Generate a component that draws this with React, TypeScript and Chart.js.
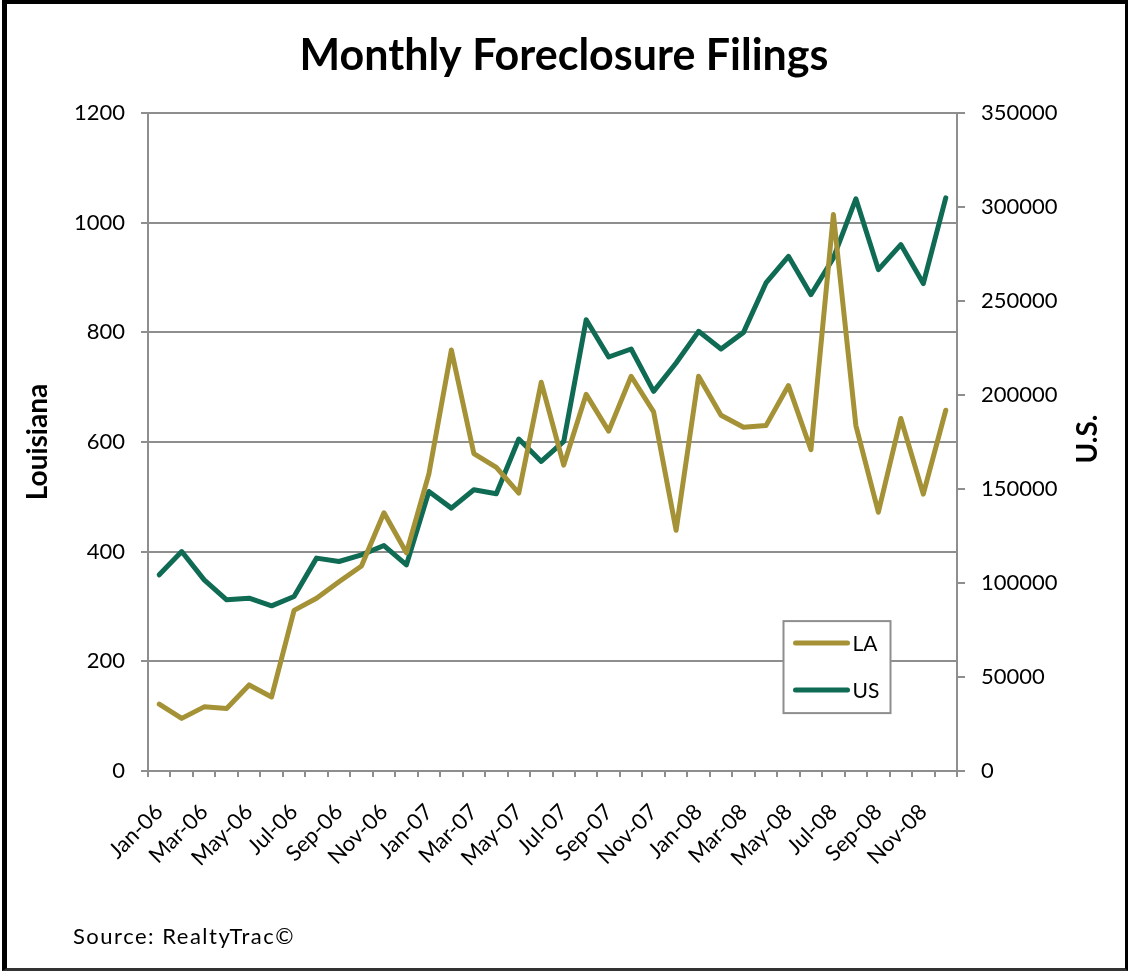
import React, { useEffect, useRef } from 'react';
import { Chart, registerables } from 'chart.js';

Chart.register(...registerables);

const months: string[] = [
  'Jan-06', 'Feb-06', 'Mar-06', 'Apr-06', 'May-06', 'Jun-06', 'Jul-06', 'Aug-06', 'Sep-06', 'Oct-06', 'Nov-06', 'Dec-06',
  'Jan-07', 'Feb-07', 'Mar-07', 'Apr-07', 'May-07', 'Jun-07', 'Jul-07', 'Aug-07', 'Sep-07', 'Oct-07', 'Nov-07', 'Dec-07',
  'Jan-08', 'Feb-08', 'Mar-08', 'Apr-08', 'May-08', 'Jun-08', 'Jul-08', 'Aug-08', 'Sep-08', 'Oct-08', 'Nov-08', 'Dec-08',
];

const laFilings: number[] = [
  122, 96, 117, 114, 157, 135, 293, 315, 345, 374, 471, 398,
  542, 768, 579, 554, 507, 709, 558, 687, 620, 720, 655, 439,
  720, 649, 627, 630, 703, 586, 1015, 630, 472, 643, 505, 658,
];

const usFilings: number[] = [
  104350, 116750, 101700, 91050, 91950, 87850, 92800, 113250, 111450, 115000, 119950, 109650,
  148700, 139850, 149600, 147500, 176600, 164700, 175300, 240100, 220250, 224500, 201950, 217050,
  233900, 224500, 233350, 259650, 273800, 253400, 272950, 304400, 266750, 280050, 259300, 304900,
];

const leftAxis = { min: 0, max: 1200, step: 200 };
const rightAxis = { min: 0, max: 350000, step: 50000 };

const TITLE = 'Monthly Foreclosure Filings';
const LEFT_TITLE = 'Louisiana';
const RIGHT_TITLE = 'U.S.';
const SOURCE = 'Source: RealtyTrac©';

const LA_COLOR = '#A59236';
const US_COLOR = '#0F6B53';
const GRID = '#8E8E8E';
const FONT = 'Lato';

const overlayPlugin = {
  id: 'overlay',
  afterDraw(chart: any) {
    const ctx: any = chart.ctx;
    const area = chart.chartArea;
    ctx.save();

    // legend box
    const bx = area.left + 635.5;
    const by = area.top + 508;
    const bw = 107;
    const bh = 92;
    ctx.fillStyle = '#ffffff';
    ctx.fillRect(bx, by, bw, bh);
    ctx.strokeStyle = GRID;
    ctx.lineWidth = 2;
    ctx.strokeRect(bx, by, bw, bh);
    chart.data.datasets.forEach((ds: any, i: number) => {
      const y = by + 22 + i * 47;
      ctx.strokeStyle = ds.borderColor;
      ctx.lineWidth = 5;
      ctx.lineCap = 'round';
      ctx.beginPath();
      ctx.moveTo(bx + 12, y);
      ctx.lineTo(bx + 64, y);
      ctx.stroke();
      ctx.fillStyle = '#000';
      ctx.font = `21px ${FONT}`;
      ctx.textAlign = 'left';
      ctx.textBaseline = 'middle';
      ctx.fillText(ds.label, bx + 69, y + 1);
    });

    // right axis title
    ctx.save();
    ctx.translate(area.right + 140, (area.top + area.bottom) / 2 - 3);
    ctx.rotate(-Math.PI / 2);
    ctx.fillStyle = '#000';
    ctx.font = `bold 28px ${FONT}`;
    ctx.textAlign = 'center';
    ctx.textBaseline = 'alphabetic';
    ctx.fillText(RIGHT_TITLE, 0, 0);
    ctx.restore();

    // source note
    ctx.save();
    ctx.fillStyle = '#000';
    ctx.font = `22px ${FONT}`;
    ctx.letterSpacing = '1.5px';
    ctx.textAlign = 'left';
    ctx.textBaseline = 'alphabetic';
    ctx.fillText(SOURCE, 73, 944);
    ctx.restore();

    ctx.restore();
  },
};

export default function App() {
  const canvasRef = useRef<HTMLCanvasElement | null>(null);

  useEffect(() => {
    document.body.style.margin = '0';
    const canvas = canvasRef.current;
    if (!canvas) return;
    const chart = new Chart(canvas, {
      type: 'line',
      data: {
        labels: months,
        datasets: [
          {
            label: 'LA',
            data: laFilings,
            borderColor: LA_COLOR,
            backgroundColor: LA_COLOR,
            borderWidth: 5,
            pointRadius: 0,
            tension: 0,
            borderJoinStyle: 'round',
            borderCapStyle: 'round',
            yAxisID: 'y',
          },
          {
            label: 'US',
            data: usFilings,
            borderColor: US_COLOR,
            backgroundColor: US_COLOR,
            borderWidth: 5,
            pointRadius: 0,
            tension: 0,
            borderJoinStyle: 'round',
            borderCapStyle: 'round',
            yAxisID: 'y1',
          },
        ],
      },
      options: {
        animation: false,
        responsive: false,
        maintainAspectRatio: false,
        devicePixelRatio: 1,
        layout: { padding: 0 },
        font: { family: FONT },
        plugins: {
          legend: { display: false },
          tooltip: { enabled: false },
          title: {
            display: true,
            text: TITLE,
            color: '#000',
            font: { family: FONT, size: 43, weight: 'bold' },
            padding: { top: 30, bottom: 31.5 },
          },
        },
        scales: {
          x: {
            type: 'category',
            offset: true,
            grid: { offset: true, drawOnChartArea: false, color: GRID, lineWidth: 2, tickLength: 6 },
            border: { color: GRID, width: 2 },
            ticks: {
              autoSkip: false,
              minRotation: 45,
              maxRotation: 45,
              padding: 22,
              color: '#000',
              font: { family: FONT, size: 22 },
              callback: (_v: any, i: number) => (i % 2 === 0 ? months[i] : ''),
            },
            afterFit: (s: any) => { s.height = 200; },
          },
          y: {
            type: 'linear',
            position: 'left',
            min: leftAxis.min,
            max: leftAxis.max,
            grid: { color: GRID, lineWidth: 2, tickLength: 7 },
            border: { color: GRID, width: 2 },
            ticks: {
              stepSize: leftAxis.step,
              padding: 16,
              color: '#000',
              font: { family: FONT, size: 22 },
              callback: (v: any) => String(v),
            },
            title: {
              display: true,
              text: LEFT_TITLE,
              color: '#000',
              font: { family: FONT, size: 28, weight: 'bold' },
              padding: { top: 21, bottom: 0 },
            },
            afterFit: (s: any) => { s.width = 148; },
          },
          y1: {
            type: 'linear',
            position: 'right',
            min: rightAxis.min,
            max: rightAxis.max,
            grid: { drawOnChartArea: false, color: GRID, lineWidth: 2, tickLength: 8 },
            border: { color: GRID, width: 2 },
            ticks: {
              stepSize: rightAxis.step,
              padding: 16,
              color: '#000',
              font: { family: FONT, size: 22 },
              callback: (v: any) => String(v),
            },
            afterFit: (s: any) => { s.width = 171; },
          },
        },
      } as any,
      plugins: [overlayPlugin],
    });
    return () => chart.destroy();
  }, []);

  return (
    <div style={{ position: 'absolute', left: 0, top: 0, width: 1128, height: 971, background: '#fff' }}>
      <canvas ref={canvasRef} width={1128} height={971} style={{ position: 'absolute', left: 0, top: 0, display: 'block' }} />
      <div
        style={{
          position: 'absolute',
          left: 2,
          top: 0,
          width: 1126,
          height: 971,
          boxSizing: 'border-box',
          borderLeft: '5px solid #000',
          borderTop: '4px solid #000',
          borderRight: '3px solid #000',
          borderBottom: '3px solid #333',
          pointerEvents: 'none',
        }}
      />
    </div>
  );
}
